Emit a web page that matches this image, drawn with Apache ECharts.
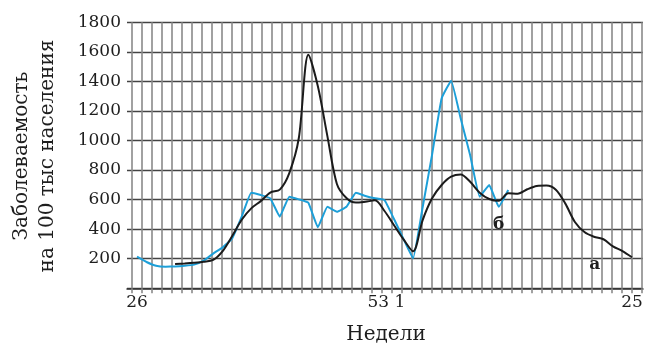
<!DOCTYPE html>
<html><head><meta charset="utf-8">
<script src="https://cdn.jsdelivr.net/npm/echarts@6/dist/echarts.min.js"></script>
<style>html,body{margin:0;padding:0;background:#fff}#c{width:645px;height:347px}</style>
</head><body><div id="c"></div>
<script>
// weeks: 26..53 then 1..25
const weeks = [];
for (let w = 26; w <= 53; w++) weeks.push(w);
for (let w = 1; w <= 25; w++) weeks.push(w);

// curve "а" (black)
const seriesA = [null, null, null, null, 164, 168, 173, 180, 192, 252, 354, 464, 541, 590, 648, 668, 780, 1017, 1580, 1367, 1030, 706, 611, 580, 586, 595, 523, 427, 331, 250, 460, 609, 699, 755, 770, 721, 647, 604, 592, 643, 640, 670, 692, 695, 667, 573, 449, 381, 349, 332, 284, 252, 210];
// curve "б" (blue)
const seriesB = [214, 178, 152, 146, 148, 152, 160, 187, 235, 277, 338, 485, 647, 631, 609, 485, 620, 602, 579, 413, 552, 518, 552, 647, 625, 609, 597, 469, 333, 203, 545, 905, 1285, 1405, 1150, 900, 620, 699, 552, 665];

const yMin = 0, yMax = 1800, yStep = 200;
const xTickLabels = ['26', '53 1', '25'];
const xTickIndex = [0, 26.2, 52];
const curveNames = ['а', 'б'];
const curveLabelAt = [[48.1, 158], [38.0, 428]];

const toPairs = arr => arr.map((v, i) => [i, v]).filter(p => p[1] !== null);
const FONT = 'DejaVu Serif';
const gridPos = { top: 22.3, bottom: 58.7, containLabel: false, outerBoundsMode: 'none' };

const chart = echarts.init(document.getElementById('c'), null, { renderer: 'canvas' });
chart.setOption({
  animation: false,
  backgroundColor: '#fff',
  grid: [
    Object.assign({ left: 127, right: 2 }, gridPos),
    Object.assign({ left: 132, width: 510 }, gridPos),
    Object.assign({ left: 137, width: 495 }, gridPos)
  ],
  xAxis: [
    { gridIndex: 0, type: 'value', min: 0, max: 1,
      axisLine: { show: true, onZero: false, lineStyle: { color: '#333', width: 1.5 } },
      axisTick: { show: false }, axisLabel: { show: false }, splitLine: { show: false } },
    { gridIndex: 1, type: 'value', min: 0, max: 51, interval: 1,
      axisLine: { show: false },
      axisTick: { show: true, length: 5, lineStyle: { color: '#8a8a8a', width: 1.6 } },
      axisLabel: { show: false },
      splitLine: { show: true, lineStyle: { color: '#8a8a8a', width: 1.6 } } },
    { gridIndex: 2, type: 'value', min: 0, max: 52,
      axisLine: { show: false }, axisTick: { show: false }, splitLine: { show: false },
      axisLabel: { show: true, customValues: xTickIndex, margin: 6,
        fontFamily: FONT, fontSize: 17, color: '#1e1e1e',
        formatter: v => { const k = xTickIndex.indexOf(v); return k >= 0 ? xTickLabels[k] : ''; } } }
  ],
  yAxis: [
    { gridIndex: 0, type: 'value', min: yMin, max: yMax, interval: yStep,
      axisLine: { show: false }, axisTick: { show: false },
      axisLabel: { margin: 6, fontFamily: FONT, fontSize: 17, color: '#1e1e1e',
        formatter: v => v === 0 ? '' : String(v) },
      splitLine: { show: true, lineStyle: { color: '#444', width: 1.4 } } },
    { gridIndex: 1, type: 'value', min: yMin, max: yMax, show: false },
    { gridIndex: 2, type: 'value', min: yMin, max: yMax, show: false }
  ],
  graphic: [{
    type: 'text', x: 35, y: 156, rotation: Math.PI / 2,
    style: { text: 'Заболеваемость\nна 100 тыс населения', fontFamily: FONT, fontSize: 20,
      lineHeight: 26, fill: '#1e1e1e', align: 'center', verticalAlign: 'middle' }
  }, {
    type: 'text', x: 386, y: 335,
    style: { text: 'Недели', fontFamily: FONT, fontSize: 20, fill: '#1e1e1e',
      align: 'center', verticalAlign: 'middle' }
  }],
  series: [
    { name: curveNames[0], type: 'line', xAxisIndex: 2, yAxisIndex: 2, data: toPairs(seriesA),
      smooth: 0.3, symbol: 'none', lineStyle: { color: '#1b1b1b', width: 2 }, z: 3,
      markPoint: { symbol: 'circle', symbolSize: 1, itemStyle: { color: 'rgba(0,0,0,0)' },
        label: { show: true, position: 'inside', formatter: curveNames[0], fontFamily: FONT,
          fontWeight: 'bold', fontSize: 17, color: '#1e1e1e' },
        data: [{ coord: curveLabelAt[0] }] } },
    { name: curveNames[1], type: 'line', xAxisIndex: 2, yAxisIndex: 2, data: toPairs(seriesB),
      smooth: 0.1, symbol: 'none', lineStyle: { color: '#1d9fd8', width: 2 }, z: 2,
      markPoint: { symbol: 'circle', symbolSize: 1, itemStyle: { color: 'rgba(0,0,0,0)' },
        label: { show: true, position: 'inside', formatter: curveNames[1], fontFamily: FONT,
          fontWeight: 'bold', fontSize: 17, color: '#1e1e1e' },
        data: [{ coord: curveLabelAt[1] }] } }
  ]
});
</script></body></html>
